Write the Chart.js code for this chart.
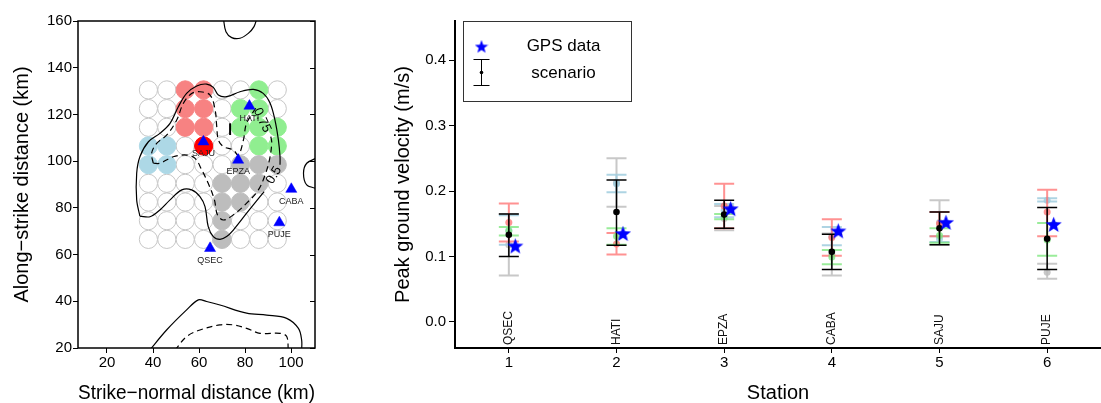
<!DOCTYPE html>
<html>
<head>
<meta charset="utf-8">
<script src="https://cdn.jsdelivr.net/npm/chart.js@4.4.0/dist/chart.umd.min.js"></script>
<style>
  html, body { margin: 0; padding: 0; background: #fff; overflow: hidden; }
  #wrap { position: relative; width: 1101px; height: 403px; overflow: hidden; }
  canvas { position: absolute; top: 0; }
  #left { left: 0; width: 380px; height: 403px; }
  #right { left: 380px; width: 730px; height: 403px; }
</style>
</head>
<body>
<div id="wrap">
  <canvas id="left" width="380" height="403"></canvas>
  <canvas id="right" width="730" height="403"></canvas>
</div>
<script>
// ---------- left panel: sub-fault grid, contours, stations ----------
const gridX = [38, 46, 54, 62, 70, 78, 86, 94];
const gridY = [130.5, 122.5, 114.5, 106.5, 98.5, 90.5, 82.5, 74.5, 66.5];
// w = none, b = light blue, r = red group, R = hypocentre cell, g = green, k = grey
const gridGroup = [
  'wwrrwwgw',
  'wwrrwggw',
  'wwrrwggg',
  'bbwRwwgg',
  'bbwwwkkk',
  'wwwwkkkw',
  'wwwwkkww',
  'wwwwkwww',
  'wwwwkwww'
];

const staNames = ['SAJU', 'HATI', 'EPZA', 'CABA', 'PUJE', 'QSEC'];
const staX = [61.9, 81.9, 77.0, 100.1, 94.9, 64.8];
const staY = [108.3, 123.6, 100.5, 88.0, 73.7, 62.7];

// contour lines (null = gap for the label)
const contourSolid = [[34.3,76.5],[32.9,83.4],[32.9,94.8],[34.3,101.9],[38.0,108.3],[43.0,111.9],[47.4,116.2],
  [51.0,123.3],[54.6,129.0],[59.0,132.2],[63.3,133.0],[66.2,131.6],[68.4,128.3],[72.0,127.6],[77.8,129.7],
  [83.6,130.7],[87.9,129.0],[90.9,124.8],[93.0,117.6],[94.5,109.0],[95.2,101.9],[95.2,98.5],null,
  [88.3,87.0],[86.5,84.8],[80.7,77.7],[74.9,70.5],[72.0,67.7],[69.1,66.5],[66.2,67.7],[64.0,72.0],[62.6,80.5],
  [60.4,84.8],[56.8,87.7],[52.5,87.7],[47.4,83.4],[43.0,79.1],[38.7,76.2],[34.3,76.5]];
const contourDashed = [[40.1,99.1],[39.4,103.4],[41.6,107.6],[46.0,111.2],[50.3,117.6],[53.2,124.8],[56.8,129.0],
  [60.4,129.7],[64.8,128.3],[67.0,121.9],[67.7,114.8],[68.4,109.1],[70.6,106.2],[74.9,104.8],[77.1,102.6],
  [79.3,109.1],[80.4,115.5],[82.2,119.0],[85.1,123.3],null,[91.2,110.5],[91.6,107.6],[90.6,100.5],[88.7,94.1],
  [85.8,87.7],[80.7,82.0],[74.9,77.0],[70.6,74.8],[68.0,77.0],[66.7,83.4],[64.0,90.5],[61.2,96.2],[58.3,101.2],
  [54.7,102.6],[48.8,101.9],[43.0,99.1],[40.1,99.1]];
const contourDash = [[73.5,116.2],[73.5,111.2]];
const contourTop = [[70.6,161],[71.7,155.4],[74.2,152.9],[77.8,152.6],[81.4,154.7],[83.9,157.6],[85.1,161]];
const contourEdge = [[111.5,101.5],[106.8,99.1],[105.4,94.8],[106.8,89.8],[111.5,88.2]];
const contourLowSolid = [[38.5,19],[45.9,27.7],[54.6,36.3],[59.7,40.6],[63.3,39.9],[69.1,38.4],[80.7,34.9],
  [89.4,34.1],[98.1,32.7],[103.2,28.4],[104.6,23.4],[104.6,19]];
const contourLowDashed = [[49.5,19],[54.6,24.9],[60.4,27.7],[69.1,29.9],[74.9,29.9],[80.7,28.4],[86.5,26.3],
  [95.2,26.3],[98.1,24.9],[98.8,19]];
const contourLabels = [
  { text: '0.75', x: 87.4, y: 117.5, angle: 65 },
  { text: '0.5', x: 92.6, y: 94.0, angle: -60 }
];

const xTicksL = [20, 40, 60, 80, 100];
const yTicksL = [20, 40, 60, 80, 100, 120, 140, 160];

// ---------- right panel: PGV per station ----------
const stations = ['QSEC', 'HATI', 'EPZA', 'CABA', 'SAJU', 'PUJE'];
const gpsPgv = [0.116, 0.135, 0.173, 0.139, 0.152, 0.149];
const scenMean = [0.133, 0.168, 0.164, 0.107, 0.143, 0.127];
const scenLow = [0.100, 0.117, 0.143, 0.080, 0.118, 0.080];
const scenHigh = [0.165, 0.217, 0.186, 0.134, 0.168, 0.175];
const grayMean = [0.118, 0.213, 0.158, 0.103, 0.152, 0.076];
const grayLow = [0.071, 0.176, 0.140, 0.071, 0.118, 0.066];
const grayHigh = [0.165, 0.250, 0.177, 0.135, 0.186, 0.089];
const blueMean = [0.140, 0.211, 0.170, 0.131, 0.127, 0.186];
const blueLow = [0.118, 0.198, 0.160, 0.117, 0.122, 0.184];
const blueHigh = [0.163, 0.225, 0.180, 0.145, 0.131, 0.189];
const redMean = [0.152, 0.119, 0.177, 0.129, 0.150, 0.168];
const redLow = [0.123, 0.103, 0.143, 0.101, 0.131, 0.131];
const redHigh = [0.181, 0.136, 0.211, 0.157, 0.168, 0.202];
const greenMean = [0.139, 0.131, 0.161, 0.099, 0.132, 0.125];
const greenLow = [0.132, 0.118, 0.157, 0.088, 0.121, 0.101];
const greenHigh = [0.145, 0.143, 0.165, 0.110, 0.143, 0.151];
const yTicksR = [0, 0.1, 0.2, 0.3, 0.4];
const xTicksR = [1, 2, 3, 4, 5, 6];

const FONT = 'Liberation Sans, Arial, Helvetica, sans-serif';
Chart.defaults.font.family = FONT;
Chart.defaults.color = '#000';

const groupColors = { w: '#ffffff', b: '#add8e6', r: '#f78282', R: '#ff0000', g: '#90ee90', k: '#bdbdbd' };

function toPts(arr) {
  return arr.map(p => p ? { x: p[0], y: p[1] } : { x: NaN, y: NaN });
}

// chart.js draws higher "order" first, so circles get the largest
const circleSets = ['w', 'b', 'r', 'g', 'k', 'R'].map((g, n) => {
  const pts = [];
  gridGroup.forEach((row, r) => row.split('').forEach((c, k) => {
    if (c === g) pts.push({ x: gridX[k], y: gridY[r] });
  }));
  return {
    data: pts, showLine: false, pointRadius: 9.1, pointHoverRadius: 9.1, order: 20 - n,
    pointBackgroundColor: groupColors[g],
    pointBorderColor: g === 'w' ? '#c6c6c6' : groupColors[g], pointBorderWidth: 1
  };
});

function contourSet(arr, dash, width) {
  return {
    data: toPts(arr), showLine: true, pointRadius: 0, borderColor: '#000', borderWidth: width || 1.2,
    borderDash: dash ? [6, 4] : [], tension: 0.35, spanGaps: false, fill: false, order: 5
  };
}

const leftDecor = {
  id: 'leftDecor',
  afterDraw(chart) {
    const { ctx, chartArea: a, scales: { x, y } } = chart;
    ctx.save();
    ctx.strokeStyle = '#000';
    ctx.lineWidth = 1.5;
    ctx.strokeRect(a.left, a.top, a.right - a.left, a.bottom - a.top);
    ctx.lineWidth = 1;
    yTicksL.forEach(v => {
      const py = Math.round(y.getPixelForValue(v)) + 0.5;
      ctx.beginPath(); ctx.moveTo(a.right, py); ctx.lineTo(a.right - 5, py); ctx.stroke();
    });
    ctx.fillStyle = '#000';
    ctx.font = '13px ' + FONT;
    ctx.textAlign = 'center';
    ctx.textBaseline = 'middle';
    contourLabels.forEach(l => {
      ctx.save();
      ctx.translate(x.getPixelForValue(l.x), y.getPixelForValue(l.y));
      ctx.rotate(l.angle * Math.PI / 180);
      ctx.fillText(l.text, 0, 0);
      ctx.restore();
    });
    ctx.fillStyle = '#222';
    ctx.font = '9px ' + FONT;
    staNames.forEach((n, i) => {
      ctx.fillText(n, x.getPixelForValue(staX[i]), y.getPixelForValue(staY[i]) + 12);
    });
    ctx.restore();
  }
};

new Chart(document.getElementById('left'), {
  type: 'scatter',
  data: {
    datasets: [
      ...circleSets,
      contourSet(contourSolid, false),
      contourSet(contourDashed, true),
      contourSet(contourDash, false, 2),
      contourSet(contourTop, false),
      contourSet(contourEdge, false),
      contourSet(contourLowSolid, false),
      contourSet(contourLowDashed, true),
      {
        data: staX.map((v, i) => ({ x: v, y: staY[i] })), showLine: false, order: 0,
        pointStyle: 'triangle', pointRadius: 6.4, pointHoverRadius: 6.4,
        pointBackgroundColor: '#0000ff', pointBorderColor: '#0000ff', pointBorderWidth: 0.5
      }
    ]
  },
  options: {
    responsive: false, animation: false, events: [],
    layout: { padding: { top: 21, right: 65, left: 0, bottom: 0 } },
    plugins: { legend: { display: false }, tooltip: { enabled: false } },
    scales: {
      x: {
        type: 'linear', min: 7.4, max: 110.4,
        afterBuildTicks: a => { a.ticks = xTicksL.map(v => ({ value: v })); },
        afterFit: a => { a.height = 55; },
        grid: { drawOnChartArea: false, tickLength: 5, color: '#000' },
        border: { display: false },
        ticks: { font: { size: 15 }, padding: 1, color: '#000', maxRotation: 0, autoSkip: false },
        title: { display: true, text: 'Strike−normal distance (km)', font: { size: 20, lineHeight: 1 }, padding: 0, color: '#000' }
      },
      y: {
        type: 'linear', min: 20, max: 160,
        afterBuildTicks: a => { a.ticks = yTicksL.map(v => ({ value: v })); },
        afterFit: a => { a.width = 78; },
        grid: { drawOnChartArea: false, tickLength: 5, color: '#000' },
        border: { display: false },
        ticks: { font: { size: 15 }, padding: 1, color: '#000', autoSkip: false },
        title: { display: true, text: 'Along−strike distance (km)', font: { size: 20 }, padding: { top: 10, bottom: 0 }, color: '#000' }
      }
    }
  },
  plugins: [leftDecor]
});

// ---------- right panel ----------
function makeStar(size) {
  const c = document.createElement('canvas');
  c.width = size; c.height = size;
  const g = c.getContext('2d');
  const R = size / 2, r = R * 0.42;
  g.beginPath();
  for (let i = 0; i < 10; i++) {
    const rad = (i % 2 === 0) ? R : r;
    const ang = -Math.PI / 2 + i * Math.PI / 5;
    g.lineTo(R + rad * Math.cos(ang), R + rad * Math.sin(ang) + size * 0.04);
  }
  g.closePath();
  g.fillStyle = '#0000ff';
  g.fill();
  return c;
}
const bigStar = makeStar(17);
const smallStar = makeStar(14);

function barSet(mean, low, high, color, width, radius, order) {
  return {
    data: mean.map((v, i) => ({ x: i + 1, y: v })), low, high, barColor: color, barWidth: width,
    showLine: false, pointRadius: radius, pointHoverRadius: radius, order,
    pointBackgroundColor: color, pointBorderWidth: 0
  };
}

const errorBars = {
  id: 'errorBars',
  beforeDatasetDraw(chart, args) {
    const ds = chart.data.datasets[args.index];
    if (!ds.low) return;
    const { ctx, scales: { x, y } } = chart;
    ctx.save();
    ctx.strokeStyle = ds.barColor;
    ctx.lineWidth = ds.barWidth;
    ds.data.forEach((p, i) => {
      const px = x.getPixelForValue(p.x);
      const y0 = y.getPixelForValue(ds.low[i]);
      const y1 = y.getPixelForValue(ds.high[i]);
      ctx.beginPath();
      ctx.moveTo(px, y0); ctx.lineTo(px, y1);
      ctx.moveTo(px - 10, y0); ctx.lineTo(px + 10, y0);
      ctx.moveTo(px - 10, y1); ctx.lineTo(px + 10, y1);
      ctx.stroke();
    });
    ctx.restore();
  },
  afterDraw(chart) {
    const { ctx, chartArea: a, scales: { x } } = chart;
    ctx.save();
    // station names
    ctx.fillStyle = '#111';
    ctx.font = '12px ' + FONT;
    ctx.textAlign = 'left';
    ctx.textBaseline = 'middle';
    stations.forEach((s, i) => {
      ctx.save();
      ctx.translate(x.getPixelForValue(i + 1), a.bottom - 3);
      ctx.rotate(-Math.PI / 2);
      ctx.fillText(s, 0, 0);
      ctx.restore();
    });
    // legend
    const bx = a.left + 8.5, by = a.top + 0.5, bw = 168, bh = 80;
    ctx.fillStyle = '#fff';
    ctx.fillRect(bx, by, bw, bh);
    ctx.strokeStyle = '#333';
    ctx.lineWidth = 1;
    ctx.strokeRect(bx, by, bw, bh);
    ctx.drawImage(smallStar, bx + 18 - 7, by + 25 - 7);
    ctx.strokeStyle = '#000';
    ctx.beginPath();
    ctx.moveTo(bx + 18, by + 38); ctx.lineTo(bx + 18, by + 64);
    ctx.moveTo(bx + 10, by + 38); ctx.lineTo(bx + 26, by + 38);
    ctx.moveTo(bx + 10, by + 64); ctx.lineTo(bx + 26, by + 64);
    ctx.stroke();
    ctx.fillStyle = '#000';
    ctx.beginPath(); ctx.arc(bx + 18, by + 51, 1.8, 0, Math.PI * 2); ctx.fill();
    ctx.font = '17px ' + FONT;
    ctx.textAlign = 'center';
    ctx.fillText('GPS data', bx + 100, by + 25);
    ctx.fillText('scenario', bx + 100, by + 52);
    ctx.restore();
  }
};

new Chart(document.getElementById('right'), {
  type: 'scatter',
  data: {
    datasets: [
      barSet(grayMean, grayLow, grayHigh, 'rgba(190,190,190,0.85)', 2, 3.5, 5),
      barSet(blueMean, blueLow, blueHigh, 'rgba(160,205,222,0.85)', 2, 3.5, 4),
      barSet(redMean, redLow, redHigh, 'rgba(255,110,110,0.75)', 2, 3.5, 3),
      barSet(greenMean, greenLow, greenHigh, 'rgba(120,230,120,0.75)', 2, 3.5, 2),
      barSet(scenMean, scenLow, scenHigh, '#000', 1.5, 3.3, 1),
      {
        data: gpsPgv.map((v, i) => ({ x: i + 1.06, y: v })), showLine: false, order: 0,
        pointStyle: bigStar, pointRadius: 8, pointHoverRadius: 8
      }
    ]
  },
  options: {
    responsive: false, animation: false, events: [],
    layout: { padding: { top: 21, right: 2, left: 0, bottom: 0 } },
    plugins: { legend: { display: false }, tooltip: { enabled: false } },
    scales: {
      x: {
        type: 'linear', min: 0.5, max: 6.5,
        afterBuildTicks: a => { a.ticks = xTicksR.map(v => ({ value: v })); },
        afterFit: a => { a.height = 55; },
        grid: { drawOnChartArea: false, tickLength: 5, color: '#000' },
        border: { display: true, color: '#000', width: 2 },
        ticks: { font: { size: 15 }, padding: 1, color: '#000', maxRotation: 0, autoSkip: false },
        title: { display: true, text: 'Station', font: { size: 20, lineHeight: 1 }, padding: 0, color: '#000' }
      },
      y: {
        type: 'linear', min: -0.04, max: 0.46,
        afterBuildTicks: a => { a.ticks = yTicksR.map(v => ({ value: v })); },
        afterFit: a => { a.width = 75; },
        grid: { drawOnChartArea: false, tickLength: 6, color: '#000' },
        border: { display: true, color: '#000', width: 2 },
        ticks: { font: { size: 15 }, padding: 3, color: '#000', autoSkip: false, callback: v => v.toFixed(1) },
        title: { display: true, text: 'Peak ground velocity (m/s)', font: { size: 20 }, padding: { top: 11, bottom: 0 }, color: '#000' }
      }
    }
  },
  plugins: [errorBars]
});
</script>
</body>
</html>
